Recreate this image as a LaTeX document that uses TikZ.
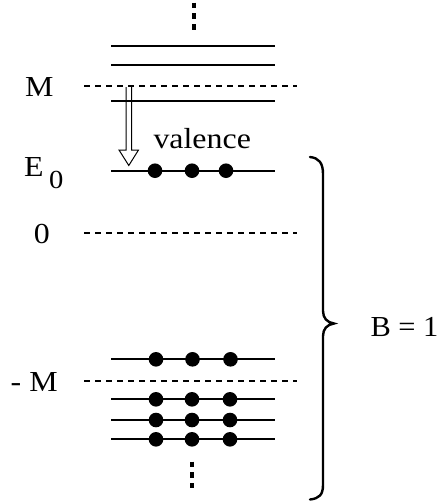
\documentclass[tikz,border=0pt]{standalone}
\usepackage{fontspec}
\setmainfont{Liberation Serif}
\newcommand{\lbltxt}[3][29]{\scalebox{#2}[1]{\fontsize{#1}{#1}\selectfont #3}}
\begin{document}
\begin{tikzpicture}[x=1pt,y=-1pt,
  level/.style={line width=2pt},
  reflevel/.style={line width=2pt,dash pattern=on 6pt off 5pt},
  electron/.style={circle,fill=black,inner sep=0pt,minimum size=14.6pt},
  lbl/.style={anchor=base west,inner sep=0pt,outer sep=0pt},
  vdots/.style={line width=4pt},
  bracestyle/.style={line width=2.4pt,line cap=round},
  transit/.style={line width=1pt,line join=miter}]
\useasboundingbox (0,0) rectangle (439,501);
% top continuation dots
\coordinate (topA) at (193.7,2.7);
\coordinate (topB) at (193.7,30);
\draw[vdots,dash pattern=on 5.7pt off 5pt] (topA) -- (topB);
% upper levels
\foreach \y/\n in {46/u1,65.3/u2,100.7/u3}{
  \coordinate (\n L) at (111,\y); \coordinate (\n R) at (275,\y);
  \draw[level] (\n L) -- (\n R);
}
% M reference
\coordinate (mL) at (84,86); \coordinate (mR) at (297,86);
\draw[reflevel] (mL) -- (mR);
\node[lbl] (labM) at (25,96) {\lbltxt{1.1}{M}};
% E0 level
\coordinate (eL) at (111,170.7); \coordinate (eR) at (275,170.7);
\draw[level] (eL) -- (eR);
\foreach \x/\n in {155/e1,192/e2,226/e3}{
  \node[electron] (\n) at (\x,170.7) {};
}
\node[lbl] (labE) at (24,176) {\lbltxt{1.1}{E}};
\node[lbl] (labEsub) at (49,188) {\lbltxt[26]{1.1}{0}};
\node[lbl] (labVal) at (153.5,148) {\lbltxt{1.1}{valence}};
% transition arrow
\coordinate (arA) at (126,87);
\coordinate (arB) at (126,150);
\coordinate (arC) at (119,150);
\coordinate (arTip) at (128.8,165.5);
\coordinate (arD) at (138.5,150);
\coordinate (arE) at (131.7,150);
\coordinate (arF) at (131.7,87);
\draw[transit] (arA) -- (arB) -- (arC) -- (arTip) -- (arD) -- (arE) -- (arF);
% zero reference
\coordinate (zL) at (84,233.3); \coordinate (zR) at (297,233.3);
\draw[reflevel] (zL) -- (zR);
\node[lbl] (labZero) at (34,243) {\lbltxt{1.1}{0}};
% lower levels
\coordinate (d1L) at (111,359.3); \coordinate (d1R) at (275,359.3);
\draw[level] (d1L) -- (d1R);
\foreach \x/\n in {156/a1,192.5/a2,230.5/a3}{
  \node[electron] (\n) at (\x,359.3) {};
}
\coordinate (nmL) at (84,380.7); \coordinate (nmR) at (297,380.7);
\draw[reflevel] (nmL) -- (nmR);
\node[lbl] (labNM) at (10.7,391) {\lbltxt{1.1}{- M}};
\foreach \y/\n in {399.3/b,420/c,439.3/d}{
  \coordinate (\n L) at (111,\y); \coordinate (\n R) at (275,\y);
  \draw[level] (\n L) -- (\n R);
  \node[electron] (\n1) at (156,\y) {};
  \node[electron] (\n2) at (192,\y) {};
  \node[electron] (\n3) at (230,\y) {};
}
% bottom continuation dots
\coordinate (botA) at (192,461.7);
\coordinate (botB) at (192,489);
\draw[vdots,dash pattern=on 5.2pt off 5.5pt] (botA) -- (botB);
% brace
\coordinate (brTop) at (310,157);
\coordinate (brTip) at (334,323.5);
\coordinate (brBot) at (310,499.5);
\draw[bracestyle] (brTop) .. controls (319,158) and (323,163) .. (323,174)
  -- (323,311) .. controls (323,318) and (327,322.5) .. (brTip)
  .. controls (327,324.5) and (323,329) .. (323,336)
  -- (323,485) .. controls (323,495) and (319,498.5) .. (brBot);
\node[lbl] (labB) at (370.5,336) {\lbltxt{1.05}{B = 1}};
\end{tikzpicture}
\end{document}
